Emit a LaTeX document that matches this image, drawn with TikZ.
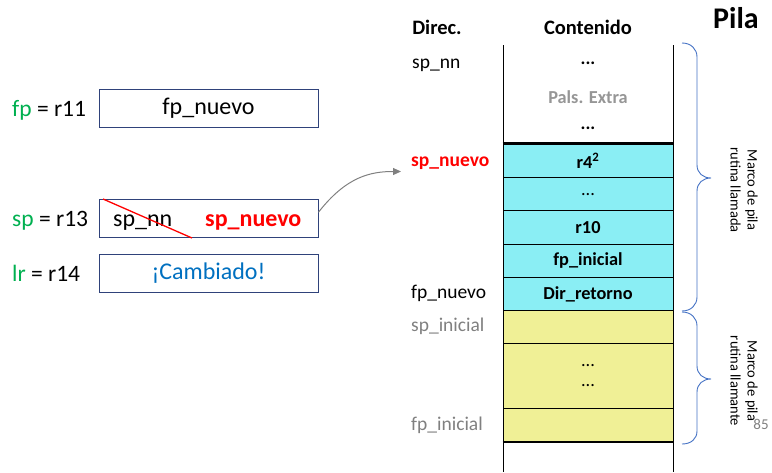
\documentclass[tikz,border=0pt]{standalone}
\usepackage{fontspec}
\setmainfont{Carlito}
\usetikzlibrary{arrows.meta}
\definecolor{boxedge}{RGB}{47,66,122}
\definecolor{reggreen}{RGB}{0,176,80}
\definecolor{changedblue}{RGB}{0,112,192}
\definecolor{cellcyan}{RGB}{138,238,244}
\definecolor{cellyellow}{RGB}{240,240,150}
\definecolor{bracecol}{RGB}{68,114,196}
\definecolor{softgray}{RGB}{128,128,128}
\definecolor{extragray}{RGB}{150,150,150}
\begin{document}
\begin{tikzpicture}[x=1pt,y=-1pt,
  regbox/.style={draw=boxedge,line width=0.9pt,minimum width=219pt,minimum height=38pt,inner sep=0pt,font=\fontsize{24}{27}\selectfont},
  reglabel/.style={anchor=base west,inner sep=0pt,font=\fontsize{23.5}{27}\selectfont},
  cell/.style={draw=black,line width=0.8pt,minimum width=170pt,inner sep=0pt,font=\bfseries\fontsize{18.3}{21}\selectfont},
  freecell/.style={inner sep=0pt,font=\bfseries\fontsize{18.3}{21}\selectfont},
  addr/.style={anchor=base west,inner sep=0pt,font=\fontsize{19.5}{23}\selectfont},
  header/.style={anchor=base,inner sep=0pt,font=\bfseries\fontsize{20.5}{24}\selectfont},
  bracepath/.style={draw=bracecol,line width=0.9pt},
  framelabel/.style={rotate=-90,align=center,inner sep=0pt,font=\fontsize{14.5}{17}\selectfont}
]
\useasboundingbox (0,0) rectangle (772,472);

% register boxes
\node[reglabel] (fplab) at (12,116) {\textcolor{reggreen}{fp} = r11};
\node[reglabel] (splab) at (12,226.7) {\textcolor{reggreen}{sp} = r13};
\node[reglabel] (lrlab) at (12,281.7) {\textcolor{reggreen}{lr} = r14};
\node[regbox] (fpbox) at (208.5,108.5) {fp\_nuevo};
\node[regbox] (spbox) at (208.5,218.3) {};
\node[regbox,text=changedblue] (lrbox) at (208.5,273.5) {¡Cambiado!};
\node[reglabel,font=\fontsize{24}{27}\selectfont] (spold) at (113,226.7) {sp\_nn};
\node[reglabel,text=red,font=\bfseries\fontsize{24}{27}\selectfont] (spnew) at (205,226.7) {sp\_nuevo};
\coordinate (strikeA) at (103,199);
\coordinate (strikeB) at (192,238);
\draw[red,line width=1.3pt] (strikeA) -- (strikeB);

% stack headers
\node[header] (hdir) at (437,34.3) {Direc.};
\node[header] (hcont) at (588,34.3) {Contenido};
\node[anchor=base,inner sep=0pt,font=\bfseries\fontsize{30}{34}\selectfont] (title) at (736,28.3) {Pila};

% upper free area of the stack
\node[freecell] (dots1) at (588,63) {...};
\node[freecell,text=extragray] (extra) at (588,97) {Pals. Extra};
\node[freecell] (dots2) at (588,128) {...};

% frame of the called routine
\node[cell,fill=cellcyan,minimum height=33.3pt] (c1) at (588,160.7) {r4\textsuperscript{2}};
\node[cell,fill=cellcyan,minimum height=33.3pt,font=\fontsize{18.3}{21}\selectfont] (c2) at (588,194) {\raisebox{-0.3ex}{...}};
\node[cell,fill=cellcyan,minimum height=33.3pt] (c3) at (588,227.3) {r10};
\node[cell,fill=cellcyan,minimum height=33.3pt] (c4) at (588,260.6) {fp\_inicial};
\node[cell,fill=cellcyan,minimum height=33.3pt] (c5) at (588,293.9) {Dir\_retorno};

% frame of the calling routine
\node[cell,fill=cellyellow,minimum height=32.5pt] (y1) at (588,326.8) {};
\node[cell,fill=cellyellow,minimum height=65.5pt,align=center,font=\fontsize{18.3}{22}\selectfont] (y2) at (588,375.8) {...\\[-2pt]...};
\node[cell,fill=cellyellow,minimum height=33pt] (y3) at (588,425) {};

% stack walls and frame limits
\draw[line width=0.9pt] (503.3,45) -- (503.3,472);
\draw[line width=0.9pt] (673.3,45) -- (673.3,472);
\draw[line width=2.6pt] (c1.north west) -- (c1.north east);
\draw[line width=2.6pt] (y3.south west) -- (y3.south east);

% addresses
\node[addr] (asp) at (412,68.3) {sp\_nn};
\node[addr,text=red,font=\bfseries\fontsize{19.5}{23}\selectfont] (aspnew) at (411,166) {sp\_nuevo};
\node[addr] (afp) at (411,298.3) {fp\_nuevo};
\node[addr,text=softgray] (aspini) at (411,331.7) {sp\_inicial};
\node[addr,text=softgray] (afpini) at (411,430) {fp\_inicial};

% sp now points to sp_nuevo
\draw[softgray,line width=1pt,-{Triangle[length=8pt,width=7pt]}]
  ([yshift=6pt]spbox.east) .. controls +(28,-36) and +(-30,0) .. ([xshift=-10pt,yshift=-5.5pt]aspnew.base west);

% braces
\draw[bracepath] (682,43) .. controls (691,43) and (697,49) .. (697,57) -- (697,165)
  .. controls (697,173) and (703,178) .. (711,178) .. controls (703,178) and (697,183) .. (697,191)
  -- (697,297) .. controls (697,305) and (691,311) .. (682,311);
\draw[bracepath] (682,312) .. controls (691,312) and (697,318) .. (697,326) -- (697,366)
  .. controls (697,374) and (703,379) .. (711,379) .. controls (703,379) and (697,384) .. (697,392)
  -- (697,431) .. controls (697,439) and (691,444) .. (682,444);
\node[framelabel] (calledlab) at (744,190) {Marco de pila\\rutina llamada};
\node[framelabel] (callerlab) at (744,381) {Marco de pila\\rutina llamante};

% slide number
\node[anchor=base,inner sep=0pt,text=softgray,font=\fontsize{15}{18}\selectfont] (pagenum) at (761,429) {85};
\end{tikzpicture}
\end{document}
